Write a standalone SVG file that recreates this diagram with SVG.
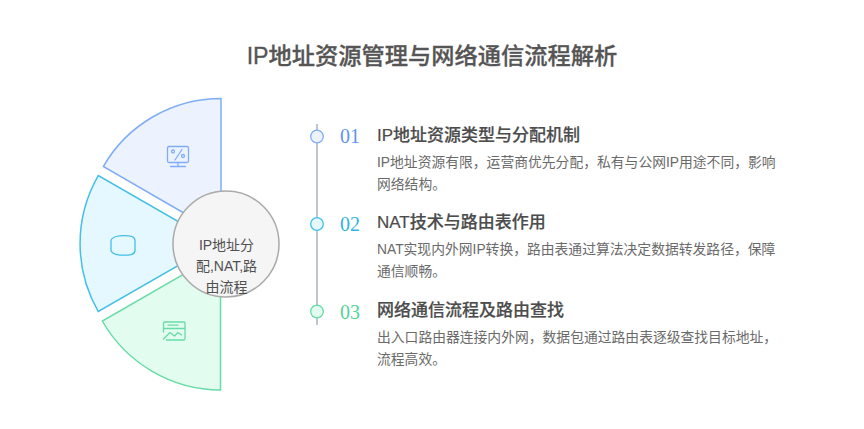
<svg xmlns="http://www.w3.org/2000/svg" width="864" height="429" viewBox="0 0 864 429">
<style>
text{font-family:"Liberation Sans","Noto Sans CJK SC",sans-serif}
.t{font-size:23.25px;font-weight:500;fill:#555555;stroke:#555555;stroke-width:.3}
.h{font-size:17px;font-weight:500;fill:#4c4c4c;stroke:#4c4c4c;stroke-width:.2}
.d{font-size:13.8px;fill:#6a6a6a}
.n{font-size:20px;font-family:"Liberation Serif",serif}
.c{font-size:14px;fill:#505050;text-anchor:middle}
.i{fill:none;stroke-width:1.300;stroke-linecap:round;stroke-linejoin:round}
</style>
<rect width="864" height="429" fill="#fff"/>
<text class="t" x="432" y="64" text-anchor="middle">IP地址资源管理与网络通信流程解析</text>
<g id="wedge-1">
<path d="M221 234.500L103.300 166.500A136 136 0 0 1 221 98.500Z" fill="#ecf3ff" stroke="#7fadf6" stroke-width="1.500"/>
<g class="i" stroke="#7fadf6"><rect x="167.500" y="146.500" width="21" height="16" rx="1.500"/><path d="M178 162.500V166M170.500 166.500H185.500M175 160L182 149.500"/><circle cx="173" cy="151.500" r="1.500"/><circle cx="183" cy="156" r="1.500"/></g>
</g>
<g id="wedge-2">
<path d="M216.500 243.500L98.300 311.500A136 136 0 0 1 98.300 175.500Z" fill="#e6f8ff" stroke="#43bfe8" stroke-width="1.500"/>
<path class="i" stroke="#43bfe8" d="M116 236.500C120 235.200 128 235.200 132 236.500C134.500 237.300 135 239 135 241V250C135 252 134.500 253.500 132 254.300C128 255.500 120 255.500 116 254.300C113.500 253.500 111 252 111 250V241C111 239 113.500 237.300 116 236.500Z"/>
</g>
<g id="wedge-3">
<path d="M220.500 253L102.300 321A137 137 0 0 0 220.500 390Z" fill="#e2fcef" stroke="#67dca6" stroke-width="1.500"/>
<g class="i" stroke="#67dca6"><path d="M163.500 332V323.500Q163.500 322 165 322H184Q185 322 185 323.500V338.500Q185 340 184 340H166.500M163.500 328.500H185M168 325.200H178M163.500 339L170 332.500L174.500 336L178 332.500L181.500 335"/></g>
</g>
<g id="center">
<circle cx="226" cy="244" r="53" fill="#f5f5f5" stroke="#aaaaaa" stroke-width="1.500"/>
<text class="c" x="226.500" y="250">IP地址分</text>
<text class="c" x="226.500" y="271">配,NAT,路</text>
<text class="c" x="226.500" y="292">由流程</text>
</g>
<g id="connectors"><line x1="317" y1="124" x2="317" y2="325" stroke="#a9b4c0" stroke-width="1.500"/></g>
<g id="step-1">
<circle cx="317" cy="136.500" r="6.300" fill="#ecf3ff" stroke="#7fadf6" stroke-width="1.300"/>
<text class="n" x="340" y="143" fill="#5d95f0">01</text>
<text class="h" x="377" y="141">IP地址资源类型与分配机制</text>
<text class="d" x="377" y="167">IP地址资源有限&#65292;运营商优先分配&#65292;私有与公网IP用途不同&#65292;影响</text>
<text class="d" x="377" y="189">网络结构。</text>
</g>
<g id="step-2">
<circle cx="317" cy="224" r="6.300" fill="#e6f8ff" stroke="#43bfe8" stroke-width="1.300"/>
<text class="n" x="340" y="231" fill="#2fb4e4">02</text>
<text class="h" x="377" y="228">NAT技术与路由表作用</text>
<text class="d" x="377" y="254">NAT实现内外网IP转换&#65292;路由表通过算法决定数据转发路径&#65292;保障</text>
<text class="d" x="377" y="276">通信顺畅。</text>
</g>
<g id="step-3">
<circle cx="317" cy="311.500" r="6.300" fill="#e2fcef" stroke="#67dca6" stroke-width="1.300"/>
<text class="n" x="340" y="319" fill="#4fd59a">03</text>
<text class="h" x="377" y="316">网络通信流程及路由查找</text>
<text class="d" x="377" y="342">出入口路由器连接内外网&#65292;数据包通过路由表逐级查找目标地址&#65292;</text>
<text class="d" x="377" y="364">流程高效。</text>
</g>
</svg>
